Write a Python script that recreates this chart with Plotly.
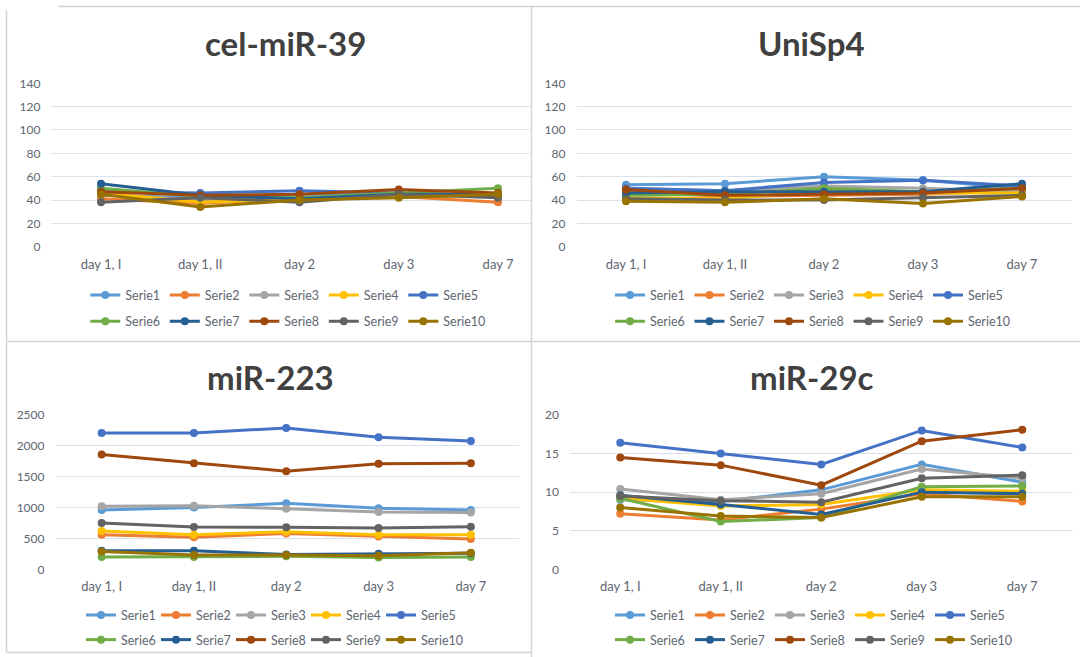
import plotly.graph_objects as go

# Sampling days (category axis) and series labels
days = ["day 1, I", "day 1, II", "day 2", "day 3", "day 7"]
series_names = ["Serie1", "Serie2", "Serie3", "Serie4", "Serie5",
                "Serie6", "Serie7", "Serie8", "Serie9", "Serie10"]
series_colors = ["#5B9BD5", "#ED7D31", "#A5A5A5", "#FFC000", "#4472C4",
                 "#70AD47", "#255E91", "#9E480E", "#636363", "#997300"]

# One row per series (Serie1..Serie10), one value per sampling day
cel_mir_39 = [
    [44, 42, 45, 45, 43],
    [41, 37, 42, 43, 38],
    [45, 40, 42, 44, 44],
    [46, 38, 41, 44, 45],
    [47, 46, 48, 46, 44],
    [50, 43, 42, 46, 50],
    [54, 44, 41, 45, 45],
    [47, 44, 45, 49, 46],
    [38, 42, 38, 45, 42],
    [45, 34, 40, 42, 45],
]
unisp4 = [
    [53, 54, 60, 57, 50],
    [47, 43, 44, 45, 48],
    [50, 48, 52, 50, 47],
    [42, 41, 48, 46, 46],
    [50, 48, 55, 57, 52],
    [44, 45, 50, 47, 50],
    [46, 47, 47, 47, 54],
    [49, 44, 45, 46, 50],
    [41, 40, 40, 42, 44],
    [39, 38, 41, 37, 43],
]
mir_223 = [
    [960, 1000, 1070, 990, 960],
    [560, 520, 580, 530, 490],
    [1020, 1030, 980, 930, 920],
    [620, 560, 610, 560, 560],
    [2210, 2210, 2290, 2140, 2080],
    [200, 200, 210, 190, 200],
    [300, 300, 240, 250, 260],
    [1860, 1720, 1590, 1710, 1720],
    [750, 685, 680, 670, 690],
    [290, 230, 230, 220, 270],
]
mir_29c = [
    [9.0, 8.8, 10.3, 13.6, 11.3],
    [7.2, 6.4, 7.8, 9.8, 8.8],
    [10.4, 9.0, 9.8, 13.0, 11.8],
    [9.2, 8.2, 8.4, 10.3, 10.1],
    [16.4, 15.0, 13.6, 18.0, 15.8],
    [9.2, 6.2, 6.7, 10.7, 10.8],
    [9.6, 8.4, 7.1, 10.0, 9.8],
    [14.5, 13.5, 10.9, 16.6, 18.1],
    [9.5, 8.9, 8.7, 11.8, 12.2],
    [8.0, 6.9, 6.7, 9.4, 9.4],
]

W, H = 1080, 657
FONT = "Lato, 'Open Sans', sans-serif"
TICK_COLOR = "#5e6670"
GRID_COLOR = "#d9e1ea"
BORDER_COLOR = "#d3d3d3"


def px(x):
    return x / W


def py(y):
    return 1 - y / H


# Panel layout in pixels: plot left edge, category band width, visible right edge,
# plot top/bottom, title centre, legend origin and entry pitch.
panels = [
    dict(title="cel-miR-39", values=cel_mir_39, ymax=140, dtick=20,
         left=51.4, band=99.25, right=531, top=83.3, bottom=246.7,
         tx=285, ty=43, lx=85.3, ly=(295.3, 321.7), pitch=79.5),
    dict(title="UniSp4", values=unisp4, ymax=140, dtick=20,
         left=576.5, band=99.0, right=1071.5, top=83.3, bottom=246.7,
         tx=811.5, ty=43, lx=610, ly=(295.3, 321.7), pitch=79.5),
    dict(title="miR-223", values=mir_223, ymax=2500, dtick=500,
         left=55.5, band=92.3, right=519, top=415, bottom=569.3,
         tx=270.7, ty=376.7, lx=81, ly=(615.3, 640), pitch=75),
    dict(title="miR-29c", values=mir_29c, ymax=20, dtick=5,
         left=570, band=100.5, right=1072.5, top=415, bottom=569.3,
         tx=811.5, ty=376.7, lx=610, ly=(615.3, 640), pitch=80),
]

fig = go.Figure()
layout = dict(
    width=W, height=H,
    margin=dict(l=0, r=0, t=0, b=0, autoexpand=False),
    paper_bgcolor="white", plot_bgcolor="white",
    font=dict(family=FONT, color=TICK_COLOR),
    showlegend=True,
    annotations=[], shapes=[],
)

for p_i, p in enumerate(panels):
    n = p_i + 1
    xa = "xaxis" if n == 1 else f"xaxis{n}"
    ya = "yaxis" if n == 1 else f"yaxis{n}"
    xref = "x" if n == 1 else f"x{n}"
    yref = "y" if n == 1 else f"y{n}"
    range_end = -0.5 + (p["right"] - p["left"]) / p["band"]

    layout[xa] = dict(
        domain=[px(p["left"]), px(p["right"])], anchor=yref,
        type="category", categoryorder="array", categoryarray=days,
        range=[-0.5, range_end], showgrid=False, zeroline=False,
        showline=False, ticks="", ticklabelstandoff=8,
        tickfont=dict(family=FONT, size=13, color=TICK_COLOR),
        fixedrange=True,
    )
    layout[ya] = dict(
        domain=[py(p["bottom"]), py(p["top"])], anchor=xref,
        range=[0, p["ymax"]], dtick=p["dtick"], tick0=0,
        showgrid=True, gridcolor=GRID_COLOR, gridwidth=1,
        zeroline=False, showline=False, ticks="", ticklabelstandoff=10,
        tickfont=dict(family=FONT, size=12, color=TICK_COLOR),
        fixedrange=True,
    )

    leg_a = 2 * p_i + 1
    leg_b = 2 * p_i + 2
    for row, leg_n in enumerate((leg_a, leg_b)):
        key = "legend" if leg_n == 1 else f"legend{leg_n}"
        layout[key] = dict(
            orientation="h", x=px(p["lx"]), xanchor="left",
            y=py(p["ly"][row]), yanchor="middle",
            entrywidth=p["pitch"] - 45, entrywidthmode="pixels",
            itemwidth=30, traceorder="normal",
            bgcolor="rgba(0,0,0,0)", borderwidth=0,
            font=dict(family=FONT, size=12.5, color=TICK_COLOR),
        )

    for s_i, (name, color, vals) in enumerate(zip(series_names, series_colors, p["values"])):
        leg_n = leg_a if s_i < 5 else leg_b
        last_in_row = s_i in (4, 9)
        fig.add_trace(go.Scatter(
            x=days, y=vals, name=name, mode="lines+markers",
            line=dict(color=color, width=3),
            marker=dict(color=color, size=8),
            xaxis=xref, yaxis=yref,
            legend="legend" if leg_n == 1 else f"legend{leg_n}",
            legendwidth=50 if last_in_row else None,
            hoverinfo="skip",
        ))

    layout["annotations"].append(dict(
        text=f"<b>{p['title']}</b>", x=px(p["tx"]), y=py(p["ty"]),
        xref="paper", yref="paper", xanchor="center", yanchor="middle",
        showarrow=False, font=dict(family=FONT, size=33, color="#404040"),
    ))

# Thin frames around the four chart objects
frame_lines = [
    (58, 6.5, 1080, 6.5),
    (6.5, 10, 6.5, 652),
    (531.5, 6.5, 531.5, 657),
    (6.5, 341.5, 1080, 341.5),
    (6.5, 652.5, 531.5, 652.5),
]
for x0, y0, x1, y1 in frame_lines:
    layout["shapes"].append(dict(
        type="line", xref="paper", yref="paper",
        x0=px(x0), y0=py(y0), x1=px(x1), y1=py(y1),
        line=dict(color=BORDER_COLOR, width=1.5), layer="below",
    ))

fig.update_layout(**layout)
fig.write_html("out.html")
